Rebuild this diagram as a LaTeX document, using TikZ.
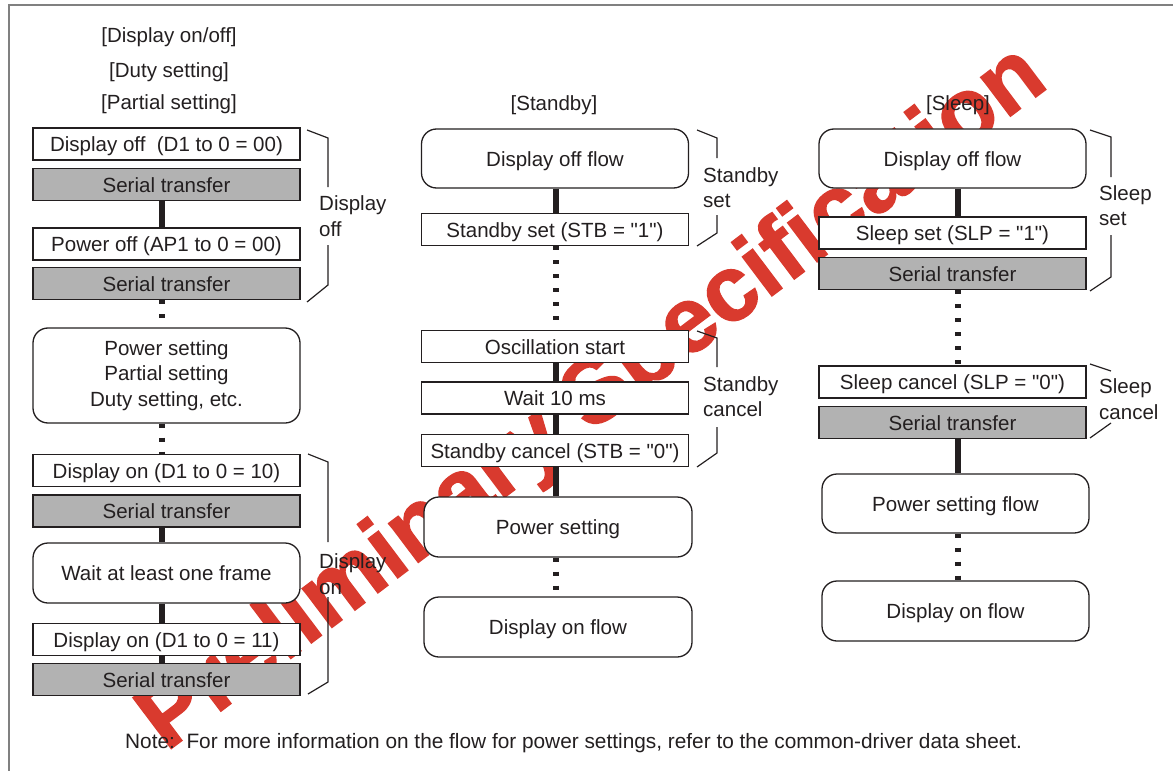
\documentclass[tikz,border=0pt]{standalone}
\usepackage{fontspec}
\setmainfont{Liberation Sans}[Ligatures=TeXOff]
\newfontfamily\stampfont{Liberation Sans Bold}[FakeBold=1.5]
\definecolor{ink}{RGB}{35,31,32}
\definecolor{serialgray}{RGB}{178,178,178}
\definecolor{stampred}{RGB}{217,58,46}
\definecolor{framegray}{RGB}{128,128,128}
\tikzset{
	cmdbox/.style={draw=ink, line width=1.3bp, fill=white, minimum width=267bp, minimum height=32bp, inner sep=0pt, text height=15bp, text depth=0bp},
	serialbox/.style={cmdbox, fill=serialgray},
	flowbox/.style={cmdbox, rounded corners=15bp, minimum height=59bp},
	solidlink/.style={draw=ink, line width=6bp},
	dotlink/.style={draw=ink, line width=6bp, dash pattern=on 4bp off 10bp},
	bracket/.style={draw=ink, line width=1.2bp},
	bracelabel/.style={anchor=west, align=left, inner sep=0pt}
}
\begin{document}
\begin{tikzpicture}[x=1bp, y=-1bp, font=\fontsize{20.6}{25.5}\selectfont, text=ink]
		\useasboundingbox (0,0) rectangle (1173,771);
		\node[rotate=37, text=stampred, font=\fontsize{93}{93}\stampfont] (stamp) at (594,400) {Preliminary Specification};
		\draw[framegray, line width=1.5bp] (9,771) -- (9,5) -- (1173,5);
		\coordinate (lspine) at (162,0);
		\coordinate (mspine) at (556,0);
		\coordinate (rspine) at (958,0);

		\node (dispttl) at (169,37) {[Display on/off]};
		\node (dutyttl) at (169,72) {[Duty setting]};
		\node (partttl) at (169,104) {[Partial setting]};
		\node[cmdbox] (dispoff) at (166.5,144) {Display off\ \ (D1 to 0 = 00)};
		\node[serialbox] (ser1) at (166.5,184.5) {Serial transfer};
		\node[cmdbox] (pwroff) at (166.5,244) {Power off (AP1 to 0 = 00)};
		\node[serialbox] (ser2) at (166.5,283.5) {Serial transfer};
		\node[flowbox, minimum height=95bp, align=center, text height=, text depth=] (settings) at (166.5,375.5) {Power setting\\Partial setting\\Duty setting, etc.};
		\node[cmdbox] (dispon1) at (166.5,470.5) {Display on (D1 to 0 = 10)};
		\node[serialbox] (ser3) at (166.5,511) {Serial transfer};
		\node[flowbox, minimum height=60bp] (waitframe) at (166.5,573) {Wait at least one frame};
		\node[cmdbox] (dispon2) at (166.5,639.5) {Display on (D1 to 0 = 11)};
		\node[serialbox] (ser4) at (166.5,679.5) {Serial transfer};

		\draw[solidlink] (ser1.south -| lspine) -- (pwroff.north -| lspine);
		\draw[dotlink] (ser2.south -| lspine) -- (settings.north -| lspine);
		\draw[dotlink] (settings.south -| lspine) -- (dispon1.north -| lspine);
		\draw[solidlink] (ser3.south -| lspine) -- (waitframe.north -| lspine);
		\draw[solidlink] (waitframe.south -| lspine) -- (dispon2.north -| lspine);
		\draw[solidlink] (dispon2.south -| lspine) -- (ser4.north -| lspine);

		\draw[bracket] (307,130) -- (328,138) -- (328,187);
		\draw[bracket] (328,245) -- (328,285) -- (307,302);
		\node[bracelabel] (offlbl) at (319,216) {Display\\off};
		\draw[bracket] (308,454) -- (328,462) -- (328,542);
		\draw[bracket] (328,597) -- (328,682) -- (308,694);
		\node[bracelabel] (onlbl) at (319,574) {Display\\on};

		\node (sbyttl) at (554,105) {[Standby]};
		\node[flowbox] (sbyoff) at (555,158.5) {Display off flow};
		\node[cmdbox] (sbyset) at (555,229.5) {Standby set (STB = "1")};
		\node[cmdbox] (oscstart) at (555,346.5) {Oscillation start};
		\node[cmdbox] (wait10) at (555,398) {Wait 10 ms};
		\node[cmdbox] (sbycancel) at (555,450.5) {Standby cancel (STB = "0")};
		\node[flowbox, minimum width=268bp, minimum height=60bp] (sbypwr) at (558,527) {Power setting};
		\node[flowbox, minimum width=268bp, minimum height=60bp] (sbyon) at (558,627) {Display on flow};

		\draw[solidlink] (sbyoff.south -| mspine) -- (sbyset.north -| mspine);
		\draw[dotlink] (sbyset.south -| mspine) -- (oscstart.north -| mspine);
		\draw[solidlink] (oscstart.south -| mspine) -- (wait10.north -| mspine);
		\draw[solidlink] (wait10.south -| mspine) -- (sbycancel.north -| mspine);
		\draw[solidlink] (sbycancel.south -| mspine) -- (sbypwr.north -| mspine);
		\draw[dotlink] (sbypwr.south -| mspine) -- (sbyon.north -| mspine);

		\draw[bracket] (697,130) -- (717,138) -- (717,158);
		\draw[bracket] (717,215) -- (717,233) -- (697,246);
		\node[bracelabel] (sbysetlbl) at (703,187.5) {Standby\\set};
		\draw[bracket] (697,331) -- (717,338) -- (717,367);
		\draw[bracket] (717,427) -- (717,453) -- (697,467);
		\node[bracelabel] (sbycanlbl) at (703,396.5) {Standby\\cancel};

		\node (slpttl) at (958,105) {[Sleep]};
		\node[flowbox] (slpoff) at (952.5,158.5) {Display off flow};
		\node[cmdbox] (slpset) at (952.5,233) {Sleep set (SLP = "1")};
		\node[serialbox] (ser5) at (952.5,273.5) {Serial transfer};
		\node[cmdbox] (slpcancel) at (952.5,382) {Sleep cancel (SLP = "0")};
		\node[serialbox] (ser6) at (952.5,422.5) {Serial transfer};
		\node[flowbox] (slppwr) at (955.5,503.5) {Power setting flow};
		\node[flowbox, minimum height=60bp] (slpon) at (955.5,611) {Display on flow};

		\draw[solidlink] (slpoff.south -| rspine) -- (slpset.north -| rspine);
		\draw[dotlink] (ser5.south -| rspine) -- (slpcancel.north -| rspine);
		\draw[solidlink] (ser6.south -| rspine) -- (slppwr.north -| rspine);
		\draw[dotlink] (slppwr.south -| rspine) -- (slpon.north -| rspine);

		\draw[bracket] (1090,130) -- (1111,137) -- (1111,177);
		\draw[bracket] (1111,235) -- (1111,277) -- (1090,291);
		\node[bracelabel] (slpsetlbl) at (1099,205.5) {Sleep\\set};
		\draw[bracket] (1090,364) -- (1111,371);
		\draw[bracket] (1111,423) -- (1090,438);
		\node[bracelabel] (slpcanlbl) at (1099,399) {Sleep\\cancel};

		\node[anchor=west, inner sep=0pt, font=\fontsize{20.9}{25}\selectfont] (note) at (125,743) {Note:\ \ For more information on the flow for power settings, refer to the common-driver data sheet.};
	\end{tikzpicture}
\end{document}
